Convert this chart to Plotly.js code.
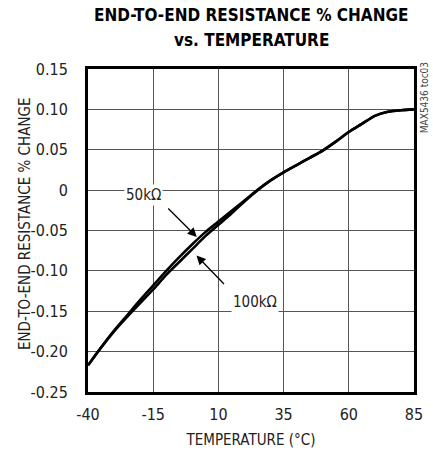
<!DOCTYPE html>
<html>
<head>
<meta charset="utf-8">
<script src="https://cdn.plot.ly/plotly-3.0.1.min.js"></script>
<style>html,body{margin:0;padding:0;background:#fff;}#chart{width:433px;height:455px;}</style>
</head>
<body>
<div id="chart"></div>
<script>
var temps = [-40,-35,-30,-25,-20,-15,-10,-5,0,5,10,15,20,25,30,35,40,45,50,55,60,65,70,75,80,85];
var change50k = [-0.217,-0.195,-0.174,-0.155,-0.136,-0.118,-0.100,-0.083,-0.067,-0.052,-0.039,-0.026,-0.013,0.000,0.012,0.022,0.031,0.040,0.049,0.060,0.072,0.082,0.092,0.097,0.099,0.100];
var change100k = [-0.217,-0.195,-0.175,-0.157,-0.140,-0.123,-0.105,-0.089,-0.073,-0.057,-0.043,-0.029,-0.014,0.000,0.012,0.022,0.031,0.040,0.049,0.060,0.072,0.082,0.092,0.097,0.099,0.100];
var xTicks = [-40,-15,10,35,60,85];
var yTicks = [0.15,0.10,0.05,0,-0.05,-0.10,-0.15,-0.20,-0.25];
var yTickLabels = ["0.15","0.10","0.05","0","-0.05","-0.10","-0.15","-0.20","-0.25"];

var FONT = '"DejaVu Sans Condensed","Liberation Sans Narrow","Liberation Sans",Arial,sans-serif';

var traces = [
  {x: temps, y: change50k, mode: 'lines', line: {color: '#000', width: 2.6, shape: 'spline', smoothing: 0.8}, name: '50k'},
  {x: temps, y: change100k, mode: 'lines', line: {color: '#000', width: 2.6, shape: 'spline', smoothing: 0.8}, name: '100k'}
];

var layout = {
  width: 433, height: 455,
  margin: {l: 88, r: 19, t: 69, b: 63},
  paper_bgcolor: '#fff', plot_bgcolor: '#fff',
  showlegend: false,
  font: {family: FONT, color: '#222', size: 15},
  xaxis: {
    range: [-40, 85], tickvals: xTicks, ticktext: xTicks.map(String),
    showgrid: true, gridcolor: '#555', gridwidth: 1, zeroline: false,
    showline: true, mirror: true, linecolor: '#000', linewidth: 3,
    ticks: 'outside', ticklen: 6, tickcolor: 'rgba(0,0,0,0)',
    tickfont: {family: FONT, size: 16, color: '#222'},
    title: {text: 'TEMPERATURE (°C)', font: {family: FONT, size: 15, color: '#222'}, standoff: 12},
    fixedrange: true
  },
  yaxis: {
    range: [-0.25, 0.15], tickvals: yTicks, ticktext: yTickLabels,
    showgrid: true, gridcolor: '#555', gridwidth: 1, zeroline: false,
    showline: true, mirror: true, linecolor: '#000', linewidth: 3,
    ticks: 'outside', ticklen: 14, tickcolor: 'rgba(0,0,0,0)',
    tickfont: {family: FONT, size: 16, color: '#222'},
    fixedrange: true
  },
  annotations: [
    {x: 0.5, y: 1.167, xref: 'paper', yref: 'paper', xanchor: 'center', yanchor: 'middle',
     text: '<b>END-TO-END RESISTANCE % CHANGE</b>', showarrow: false,
     font: {family: FONT, size: 17, color: '#000'}},
    {x: 0.5, y: 1.090, xref: 'paper', yref: 'paper', xanchor: 'center', yanchor: 'middle',
     text: '<b>vs. TEMPERATURE</b>', showarrow: false,
     font: {family: FONT, size: 17, color: '#000'}},
    {x: -0.193, y: 0.52, xref: 'paper', yref: 'paper', xanchor: 'center', yanchor: 'middle',
     text: 'END-TO-END RESISTANCE % CHANGE', showarrow: false, textangle: -90,
     font: {family: FONT, size: 15, color: '#222'}},
    {x: -18.8, y: -0.006, xref: 'x', yref: 'y', text: '50kΩ', showarrow: false,
     font: {family: FONT, size: 15, color: '#222'}, bgcolor: '#fff'},
    {x: 24.0, y: -0.138, xref: 'x', yref: 'y', text: '100kΩ', showarrow: false,
     font: {family: FONT, size: 15, color: '#222'}, bgcolor: '#fff'},
    {x: 1.7, y: -0.058, xref: 'x', yref: 'y', text: ' ', showarrow: true,
     ax: -30, ay: -30, arrowhead: 2, arrowsize: 1.4, arrowwidth: 1.3, arrowcolor: '#000', standoff: 0, font: {size: 1}},
    {x: 1.6, y: -0.081, xref: 'x', yref: 'y', text: ' ', showarrow: true,
     ax: 29, ay: 30, arrowhead: 2, arrowsize: 1.4, arrowwidth: 1.3, arrowcolor: '#000', standoff: 0, font: {size: 1}},
    {x: 1.031, y: 0.91, xref: 'paper', yref: 'paper', xanchor: 'center', yanchor: 'middle',
     text: 'MAX5436 toc03', showarrow: false,
     textangle: -90, font: {family: FONT, size: 10, color: '#444'}}
  ]
};

Plotly.newPlot('chart', traces, layout, {staticPlot: true, displayModeBar: false});
</script>
</body>
</html>
